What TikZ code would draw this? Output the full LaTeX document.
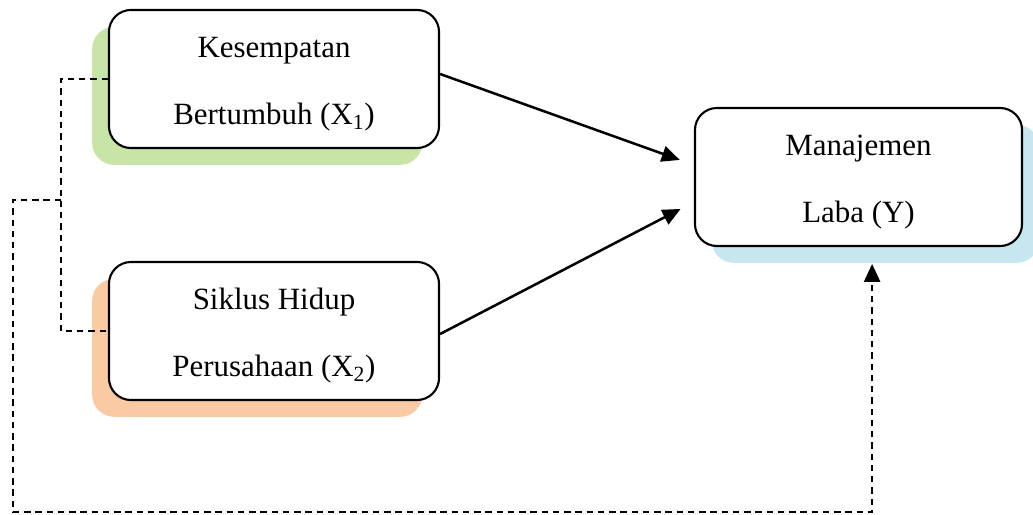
\documentclass[tikz,border=0pt]{standalone}
\usepackage{fontspec}
\setmainfont{Liberation Serif}
\usetikzlibrary{arrows.meta, shadows}
\definecolor{shadowgreen}{RGB}{200,228,166}
\definecolor{shadoworange}{RGB}{250,202,162}
\definecolor{shadowblue}{RGB}{200,230,240}
\newcommand{\boxstrut}{\rule{0pt}{22pt}}
\tikzstyle{varbox} = [
    rectangle,
    rounded corners=0.55cm,
    minimum width=8.25cm,
    minimum height=3.45cm,
    draw=black,
    fill=white,
    line width=1.5pt,
    align=center,
    font=\fontsize{22}{48}\selectfont
]
\tikzstyle{arrow} = [line width=1.8pt,-{Triangle[length=0.45cm,width=0.4cm]}]
\tikzstyle{dashline} = [line width=1.6pt, dash pattern=on 4.5pt off 3.5pt]

\begin{document}
\begin{tikzpicture}[x=0.025cm, y=-0.025cm]
\useasboundingbox (0,0) rectangle (1033,514);

\node (x1) [varbox, general shadow={fill=shadowgreen, opacity=1,
    shadow xshift=-0.42cm, shadow yshift=-0.42cm}] at (274,79)
{\boxstrut Kesempatan\\Bertumbuh (X\textsubscript{1})};

\node (x2) [varbox, general shadow={fill=shadoworange, opacity=1,
    shadow xshift=-0.42cm, shadow yshift=-0.42cm}] at (274,331)
{\boxstrut Siklus Hidup\\Perusahaan (X\textsubscript{2})};

\node (y) [varbox, minimum width=8.175cm, general shadow={fill=shadowblue,
    opacity=1, shadow xshift=0.42cm, shadow yshift=-0.42cm}] at (858.5,177)
{\boxstrut Manajemen\\Laba (Y)};

\coordinate (bracket) at (61,200);
\coordinate (corner) at (13,512);

\draw [arrow, shorten >=0.375cm] ([yshift=0.125cm]x1.east) -- ([yshift=0.3cm]y.west);
\draw [arrow, shorten >=0.375cm] ([yshift=-0.075cm]x2.east) -- ([yshift=-0.625cm]y.west);

\draw [dashline] (x1.west) -| (bracket) |- (x2.west);
\draw [dashline, arrow] (bracket) -| (corner)
    -| ([xshift=0.34cm, yshift=-0.42cm]y.south);

\end{tikzpicture}
\end{document}
